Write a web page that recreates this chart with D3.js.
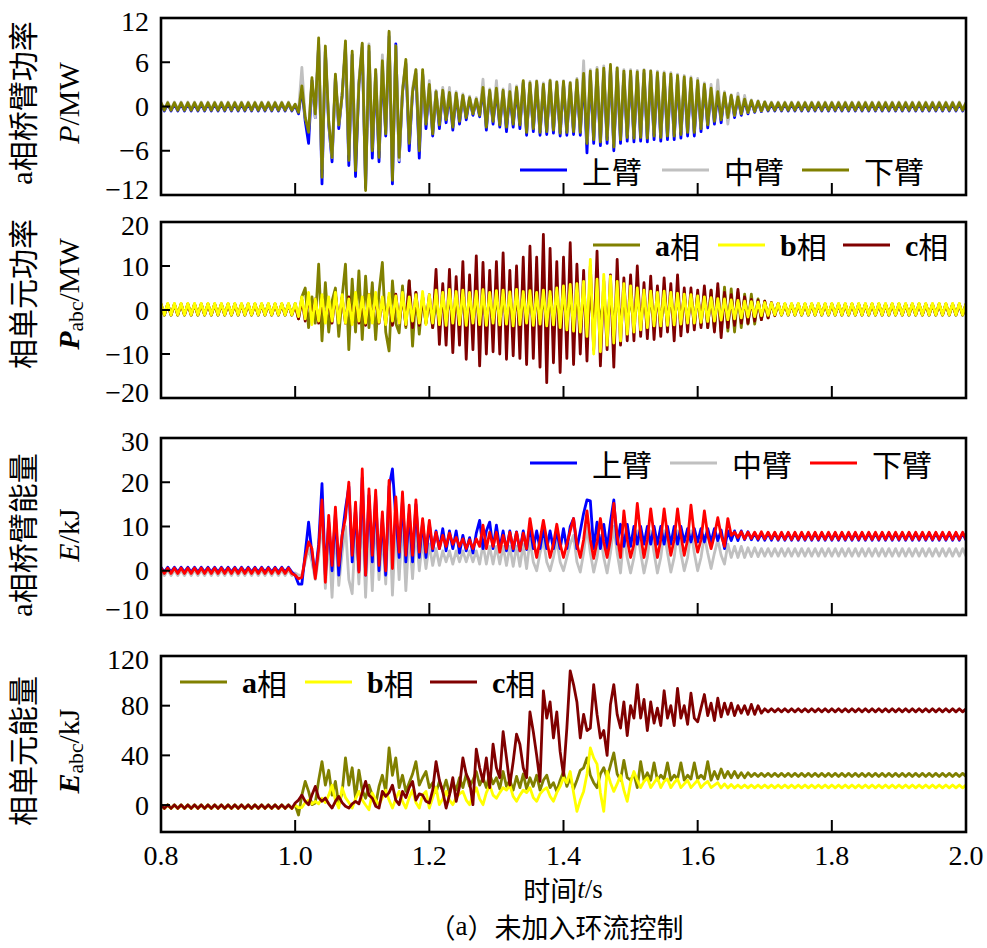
<!DOCTYPE html>
<html>
<head>
<meta charset="utf-8">
<script src="https://cdn.jsdelivr.net/npm/d3@7"></script>
<style>
  body { margin: 0; background: #fff; }
</style>
</head>
<body>
<svg id="chart" width="987" height="948"></svg>
<script>
// samples every 5 ms from 0.8 s to 2.0 s (241 points per series)
const tStart = 0.8, tStep = 0.005;
const xTicks = [0.8, 1.0, 1.2, 1.4, 1.6, 1.8, 2.0];
const armNames = ["上臂", "中臂", "下臂"];
const phaseNames = ["a相", "b相", "c相"];

// ---- panel 1: a-phase arm power P/MW ----
const pUpper = [
  0.4,-0.6,0.4,-0.6,0.4,-0.6,0.4,-0.6,0.4,-0.6,0.4,-0.6,0.4,-0.6,0.4,-0.6,0.4,-0.6,0.4,-0.6,
  0.4,-0.6,0.4,-0.6,0.4,-0.6,0.4,-0.6,0.4,-0.6,0.4,-0.6,0.4,-0.6,0.4,-0.6,0.4,-0.6,0.4,-0.6,
  0.2,-1,2.5,-2,-5,3.5,-1.5,8.5,-10.5,7.5,
  -2.5,-7.5,4,-3,1.5,8,-8,7,-9.5,3,
  8,-11,7.5,-7,4.5,-7.5,5.5,-4,9.5,-10.5,
  8.5,-7.5,2,5.8,-6,2,4.5,-7,4.5,-3,
  2.7,-4,2,-3,2,-2.2,1.7,-3.2,1.6,-2.4,
  1.4,-1.8,1.1,-1.2,0.9,-1.4,2.4,-3.2,2,-2.4,
  2.3,-2.8,2,-3.4,1.8,-2.8,2.4,-3,3.2,-3.9,
  3,-3.4,3.1,-3.9,2.8,-3.8,3.2,-3.6,3,-4,
  3.1,-3.9,2.9,-3.8,3.3,-3.9,4.2,-6.3,4.4,-5,
  4.6,-5.3,4.8,-5,5.2,-6,4.8,-5,4.4,-4.7,
  4.4,-4.8,4.3,-4.7,4.5,-4.8,4.4,-4.5,4.2,-4.7,
  4.1,-4.5,4,-4.5,3.8,-4.3,3.6,-4,3.4,-4,
  3.2,-3.4,2.8,-2.9,2.3,-2.4,1.8,-2.2,1.6,-1.8,
  1.4,-1.5,1.2,-1.2,0.9,-1,0.7,-0.8,0.6,-0.7,
  0.5,-0.6,0.4,-0.6,0.4,
  -0.6,0.4,-0.6,0.4,-0.6,0.4,-0.6,0.4,-0.6,0.4,-0.6,0.4,-0.6,0.4,-0.6,0.4,-0.6,0.4,-0.6,0.4,
  -0.6,0.4,-0.6,0.4,-0.6,0.4,-0.6,0.4,-0.6,0.4,-0.6,0.4,-0.6,0.4,-0.6,0.4,-0.6,0.4,-0.6,0.4,
  -0.6,0.4,-0.6,0.4,-0.6,0.4,-0.6,0.4,-0.6,0.4,-0.6,0.4,-0.6,0.4,-0.6,0.4
];
const pMid = [
  0.6,-0.4,0.6,-0.4,0.6,-0.4,0.6,-0.4,0.6,-0.4,0.6,-0.4,0.6,-0.4,0.6,-0.4,0.6,-0.4,0.6,-0.4,
  0.6,-0.4,0.6,-0.4,0.6,-0.4,0.6,-0.4,0.6,-0.4,0.6,-0.4,0.6,-0.4,0.6,-0.4,0.6,-0.4,0.6,-0.4,
  0.3,-0.5,5.3,-1.5,-3,3.5,-1.5,8.5,-8.5,7.5,
  -2,-6.9,4,-2.5,1.5,8,-6.5,7,-6,3.5,
  8.5,-9.5,8.5,-5.5,5,-6,7,-3,10,-9,
  8.2,-7.3,2.5,6,-4.5,2.5,5,-5,4.5,-2.2,
  3.5,-3.2,2.2,-2.2,2.6,-1.6,2.6,-2.4,2,-1.8,
  1.7,-1.3,1.4,-0.9,1.2,-1,3.7,-2.5,2.4,-1.8,
  3.5,-2.2,2.4,-2.5,3,-2,2.8,-2.2,3.4,-3.2,
  3.4,-2.8,3.5,-3.2,3.2,-3,3.6,-3,3.4,-3.2,
  3.5,-3.2,3.3,-3,3.8,-3.2,6.2,-4.8,5,-4,
  5.3,-4.5,5.5,-4,5.5,-5,5.3,-4,5,-3.8,
  5,-4,4.9,-3.8,5,-3.9,4.9,-3.6,4.8,-3.8,
  4.7,-3.6,4.6,-3.6,4.4,-3.4,4.2,-3.2,4,-3.2,
  3.8,-2.8,3.2,-2.3,3,-1.8,3.6,-1.6,2,-2.4,
  1.6,-1.2,1.8,-0.9,1.5,-0.8,0.9,-0.6,0.8,-0.6,
  0.7,-0.4,0.6,-0.4,0.6,
  -0.4,0.6,-0.4,0.6,-0.4,0.6,-0.4,0.6,-0.4,0.6,-0.4,0.6,-0.4,0.6,-0.4,0.6,-0.4,0.6,-0.4,0.6,
  -0.4,0.6,-0.4,0.6,-0.4,0.6,-0.4,0.6,-0.4,0.6,-0.4,0.6,-0.4,0.6,-0.4,0.6,-0.4,0.6,-0.4,0.6,
  -0.4,0.6,-0.4,0.6,-0.4,0.6,-0.4,0.6,-0.4,0.6,-0.4,0.6,-0.4,0.6,-0.4,0.6
];
const pLower = [
  0.5,-0.5,0.5,-0.5,0.5,-0.5,0.5,-0.5,0.5,-0.5,0.5,-0.5,0.5,-0.5,0.5,-0.5,0.5,-0.5,0.5,-0.5,
  0.5,-0.5,0.5,-0.5,0.5,-0.5,0.5,-0.5,0.5,-0.5,0.5,-0.5,0.5,-0.5,0.5,-0.5,0.5,-0.5,0.5,-0.5,
  0.3,-0.8,2.8,-1.5,-3.5,3.9,-1,9.3,-9.6,8.2,
  -2,-6.9,4.4,-2.5,1.5,8.9,-7.3,7.5,-8.7,3,
  8.6,-11.4,8.2,-6,5,-6.9,6.2,-3.7,10.2,-10,
  8.2,-6.9,2,6.4,-5,2,5,-6,5,-2.4,
  3,-3.7,2,-2.5,2.2,-1.8,1.9,-2.8,1.8,-2,
  1.5,-1.5,1.2,-1,1,-1.2,2.6,-2.8,2.2,-2,
  2.5,-2.5,2.2,-2.8,2,-2.4,2.6,-2.5,3.5,-3.5,
  3.2,-3,3.4,-3.5,3,-3.4,3.5,-3.2,3.3,-3.6,
  3.4,-3.5,3.2,-3.4,3.6,-3.5,4.5,-5,4.8,-4.5,
  5,-4.8,5.2,-4.5,5.7,-5.5,5.2,-4.5,4.8,-4.2,
  4.8,-4.3,4.7,-4.2,4.9,-4.3,4.8,-4,4.6,-4.2,
  4.5,-4,4.4,-4,4.2,-3.8,4,-3.5,3.8,-3.5,
  3.5,-3,3,-2.5,2.5,-2,2,-1.8,1.8,-1.5,
  1.5,-1.2,1.3,-1,1,-0.8,0.8,-0.7,0.7,-0.6,
  0.6,-0.5,0.5,-0.5,0.5,
  -0.5,0.5,-0.5,0.5,-0.5,0.5,-0.5,0.5,-0.5,0.5,-0.5,0.5,-0.5,0.5,-0.5,0.5,-0.5,0.5,-0.5,0.5,
  -0.5,0.5,-0.5,0.5,-0.5,0.5,-0.5,0.5,-0.5,0.5,-0.5,0.5,-0.5,0.5,-0.5,0.5,-0.5,0.5,-0.5,0.5,
  -0.5,0.5,-0.5,0.5,-0.5,0.5,-0.5,0.5,-0.5,0.5,-0.5,0.5,-0.5,0.5,-0.5,0.5
];

// ---- panel 2: phase unit power P_abc/MW ----
const pa = [
  1.4,-1.2,1.4,-1.2,1.4,-1.2,1.4,-1.2,1.4,-1.2,1.4,-1.2,1.4,-1.2,1.4,-1.2,1.4,-1.2,1.4,-1.2,
  1.4,-1.2,1.4,-1.2,1.4,-1.2,1.4,-1.2,1.4,-1.2,1.4,-1.2,1.4,-1.2,1.4,-1.2,1.4,-1.2,1.4,-1.2,
  1.5,-2,3,5,-4,3,-3,10.4,-7,6.2,
  -5,2,5,-6,3,10.4,-9,7,-5,8.9,
  -6.7,7.7,-4,6.2,-6.7,4,10.8,-5,-9.3,6.6,
  -3,-5.2,5.5,-4,6.6,-8.2,4,-5.5,3,-3,
  2.5,-4,2,-2.5,2.5,-2.8,3,-2.5,2.8,-3,
  2.6,-2.8,3,-2.6,2.8,-3,2.5,-2.7,3,-2.8,
  2.7,-3,2.8,-2.5,3,-2.8,2.6,-3,2.9,-2.6,
  2.8,-3,3,-2.7,2.8,-3,2.6,-2.8,3,-2.6,
  2.8,-3,2.7,-2.8,3,-2.7,2.8,-3,2.6,-2.8,
  3,-2.6,2.8,-3,2.7,-2.8,3,-2.7,2.8,-3,
  2.6,-2.8,3,-2.6,2.8,-3,2.7,-2.8,3,-3.2,
  3,-3,3.2,-3,3.2,-3.2,3.3,-3,3.4,-3.3,
  3.5,-3.5,4,-4,4.5,-4.5,5,-5,5.2,-4.8,
  4.8,-5,4,-4,3.6,-3.2,3.6,-3.2,2.5,-2.2,
  2,-1.8,1.6,-1.2,1.4,
  -1.2,1.4,-1.2,1.4,-1.2,1.4,-1.2,1.4,-1.2,1.4,-1.2,1.4,-1.2,1.4,-1.2,1.4,-1.2,1.4,-1.2,1.4,
  -1.2,1.4,-1.2,1.4,-1.2,1.4,-1.2,1.4,-1.2,1.4,-1.2,1.4,-1.2,1.4,-1.2,1.4,-1.2,1.4,-1.2,1.4,
  -1.2,1.4,-1.2,1.4,-1.2,1.4,-1.2,1.4,-1.2,1.4,-1.2,1.4,-1.2,1.4,-1.2,1.4
];
const pb = [
  1.5,-1.1,1.5,-1.1,1.5,-1.1,1.5,-1.1,1.5,-1.1,1.5,-1.1,1.5,-1.1,1.5,-1.1,1.5,-1.1,1.5,-1.1,
  1.5,-1.1,1.5,-1.1,1.5,-1.1,1.5,-1.1,1.5,-1.1,1.5,-1.1,1.5,-1.1,1.5,-1.1,1.5,-1.1,1.5,-1.1,
  1.5,-1.5,3,-2,4,-3.3,2.5,-2.5,3.5,-3,
  3,-2.5,4,-3,3.5,-3,2.5,-3.3,4,-2.5,
  3,-3,3.5,-3,4,-2.8,3,-3.3,3.8,-2.5,
  3.2,-3,4,-3.3,3,-2.5,3.5,-3,4.2,-3.3,
  3.5,-3,4.5,-3.3,4,-3.5,4.7,-3,4.2,-3.3,
  4.5,-3.5,4,-3,4.3,-3.3,4.6,-3.5,4,-3,
  4.4,-3.4,4.5,-3.2,4.1,-3.6,4.7,-3.3,4.2,-3,
  4.4,-3.5,4,-3.2,4.5,-3.6,4.2,-3.4,5,-4,
  5.5,-4.5,5.8,-4.8,6,-5,6.5,-6,11.5,-10,
  7,-9.5,8.1,-8,7.7,-7.5,6.5,-7,6,-5.5,
  5.5,-5,5,-4.5,4.5,-4,4.3,-3.6,4,-3.6,
  4.3,-3.5,4,-3.4,3.8,-3.2,3.6,-3,3.5,-3,
  3.2,-2.8,3,-2.6,2.8,-2.5,2.6,-2.3,2.5,-2.2,
  2.3,-2,2.2,-1.8,2,-1.6,1.9,-1.5,1.8,-1.3,
  1.7,-1.2,1.6,-1.1,1.5,
  -1.1,1.5,-1.1,1.5,-1.1,1.5,-1.1,1.5,-1.1,1.5,-1.1,1.5,-1.1,1.5,-1.1,1.5,-1.1,1.5,-1.1,1.5,
  -1.1,1.5,-1.1,1.5,-1.1,1.5,-1.1,1.5,-1.1,1.5,-1.1,1.5,-1.1,1.5,-1.1,1.5,-1.1,1.5,-1.1,1.5,
  -1.1,1.5,-1.1,1.5,-1.1,1.5,-1.1,1.5,-1.1,1.5,-1.1,1.5,-1.1,1.5,-1.1,1.5
];
const pc = [
  1.3,-1.1,1.3,-1.1,1.3,-1.1,1.3,-1.1,1.3,-1.1,1.3,-1.1,1.3,-1.1,1.3,-1.1,1.3,-1.1,1.3,-1.1,
  1.3,-1.1,1.3,-1.1,1.3,-1.1,1.3,-1.1,1.3,-1.1,1.3,-1.1,1.3,-1.1,1.3,-1.1,1.3,-1.1,1.3,-1.1,
  1,-2,2.4,-2.5,3,-2,2.5,-3,3,-2.5,
  2,-3,3.5,-2.5,2.8,-3,3,-2.8,3.2,-3,
  2.8,-3.5,3.5,-2.5,3,-3,2.8,-3.2,3,-3.5,
  3.6,-3,3.2,-3.5,6.6,-4,4,-3.5,3,-3,
  3.5,-4,9.2,-7.8,6,-8,9.2,-9.7,7.6,-8,
  11,-11.2,8,-9,12.3,-12.7,10.8,-10,9,-9.5,
  11,-10,13,-11.2,9,-10.4,10,-11,12,-12.4,
  14.5,-11,12,-13,17.2,-16.5,14,-12,11,-14.2,
  12,-11,15.3,-12.4,10.4,-10,9,-11.6,10,-9,
  13.4,-12.7,6.6,-9,8,-13,11.5,-8,7.3,-7,
  8,-7,10,-6,6.2,-6.5,7.7,-6.7,5.5,-6,
  7.3,-5,6,-7,8,-5.9,5,-5,5,-4.5,
  4.5,-4,5.5,-4,4.5,-5,6,-6.3,4,-4,
  3.5,-3.5,4.7,-3,3,-3,2.4,-2.5,2.2,-2.2,
  2,-1.8,1.7,-1.3,1.5,
  -1.1,1.3,-1.1,1.3,-1.1,1.3,-1.1,1.3,-1.1,1.3,-1.1,1.3,-1.1,1.3,-1.1,1.3,-1.1,1.3,-1.1,1.3,
  -1.1,1.3,-1.1,1.3,-1.1,1.3,-1.1,1.3,-1.1,1.3,-1.1,1.3,-1.1,1.3,-1.1,1.3,-1.1,1.3,-1.1,1.3,
  -1.1,1.3,-1.1,1.3,-1.1,1.3,-1.1,1.3,-1.1,1.3,-1.1,1.3,-1.1,1.3,-1.1,1.3
];

// ---- panel 3: a-phase arm energy E/kJ ----
const eUpper = [
  0.8,-0.3,0.8,-0.3,0.8,-0.3,0.8,-0.3,0.8,-0.3,0.8,-0.3,0.8,-0.3,0.8,-0.3,0.8,-0.3,0.8,-0.3,
  0.8,-0.3,0.8,-0.3,0.8,-0.3,0.8,-0.3,0.8,-0.3,0.8,-0.3,0.8,-0.3,0.8,-0.3,0.8,-0.3,0.8,-0.3,
  -1,-3,-3,4,11,4,-1,6,19.7,-1,
  11,0,13,-1,8,14,19,2,14,0,
  21,-1,17,2,17,0,12,-1,19,23,
  12,3,16,2,13,2,15,3,11,3,
  10.5,4.5,9,5,9.5,4.5,9,5,9,4,
  8,4.5,7.5,4,8.5,11.4,5,9,11,5,
  10.3,5,9,4.5,9,4.5,8.8,4.5,9,4.8,
  10,5,9,5,9.5,5,9,5,9,5,
  9.5,5,10,11.8,5,9,13,16,15.8,5,
  11,5,10.5,5,11,16,6,10.5,5.5,10.5,
  5.5,10,6,10,6,10,6,10,6,10,
  6,10,6,10,6,10,6.5,9.5,6.5,9.5,
  6.5,9.5,6.5,9.5,6.5,9.5,6.8,9.2,5,9,
  6.8,9,6.8,9,7,8.8,7,8.5,6.9,8.5,
  6.9,8.5,6.9,8.5,6.9,
  8.5,6.9,8.5,6.9,8.5,6.9,8.5,6.9,8.5,6.9,8.5,6.9,8.5,6.9,8.5,6.9,8.5,6.9,8.5,6.9,
  8.5,6.9,8.5,6.9,8.5,6.9,8.5,6.9,8.5,6.9,8.5,6.9,8.5,6.9,8.5,6.9,8.5,6.9,8.5,6.9,
  8.5,6.9,8.5,6.9,8.5,6.9,8.5,6.9,8.5,6.9,8.5,6.9,8.5,6.9,8.5,6.9
];
const eMid = [
  0.1,-1.1,0.1,-1.1,0.1,-1.1,0.1,-1.1,0.1,-1.1,0.1,-1.1,0.1,-1.1,0.1,-1.1,0.1,-1.1,0.1,-1.1,
  0.1,-1.1,0.1,-1.1,0.1,-1.1,0.1,-1.1,0.1,-1.1,0.1,-1.1,0.1,-1.1,0.1,-1.1,0.1,-1.1,0.1,-1.1,
  -0.5,-1,-1,2,5,2,-2,3,12,-4,
  8,-6,10,-3.3,4,10,-2,-5.2,10,-3,
  14,-6,12,-4.5,13,-2,8,-3,14,-5.5,
  11,-2,12,-4.5,9,-1.8,10,0,7,0.5,
  6,1.2,5,1.2,4.5,2,4.5,1.5,4.5,2,
  4.5,2,4.5,2,4.5,1.5,6,1.5,5.5,1.5,
  5.5,1.5,5.5,1.2,5.5,1,5.5,1,6,0.5,
  7,2,0,4,7,2,0,3,7,2,
  0,3,6,8,2,-0.3,4,10,4,-0.3,
  3,8,3,-0.5,4,10,4,-0.5,8,3,
  -0.5,3,9,4,-0.5,3,9,4,-0.5,3,
  9,4,-0.3,3,9,4,0,3,9,4,
  0,3,8,4,0.5,4,7,3.5,1.5,6,
  3,5.5,3,5.5,3,5.2,3.2,5.2,3.2,5,
  3.3,5,3.3,5,3.3,
  5,3.3,5,3.3,5,3.3,5,3.3,5,3.3,5,3.3,5,3.3,5,3.3,5,3.3,5,3.3,
  5,3.3,5,3.3,5,3.3,5,3.3,5,3.3,5,3.3,5,3.3,5,3.3,5,3.3,5,3.3,
  5,3.3,5,3.3,5,3.3,5,3.3,5,3.3,5,3.3,5,3.3,5,3.3
];
const eLower = [
  0.6,-0.6,0.6,-0.6,0.6,-0.6,0.6,-0.6,0.6,-0.6,0.6,-0.6,0.6,-0.6,0.6,-0.6,0.6,-0.6,0.6,-0.6,
  0.6,-0.6,0.6,-0.6,0.6,-0.6,0.6,-0.6,0.6,-0.6,0.6,-0.6,0.6,-0.6,0.6,-0.6,0.6,-0.6,0.6,-0.6,
  -1,-1.8,-1.5,3,6.5,5,-1.8,5,16,-2.6,
  12.5,1.2,14.4,1.2,8,12,20,3.5,15.5,-0.3,
  23,-1,18.5,3.5,18.2,1.2,13.3,0,20.4,0.5,
  16.7,4.2,17.8,3.5,14.8,3.5,16,4.2,11.8,4.2,
  11.4,5,8.7,5,8,5.5,8.5,6,7.5,5.5,
  7.2,5,7,5,7.2,5.5,10.3,5,8.7,5.5,
  8.7,4.2,8,5,8.7,5,8.7,4.5,8.5,5,
  11.8,7,3,7,11.4,7,3,6,10.5,6,
  3,6,9,11.8,6,3,7,13.5,7,2.8,
  6.5,11.8,6.5,3,7,15.2,8,3,13.5,7,
  3,6,15.2,8,3,7,14,8,3,7,
  14,8,3.5,7,14,8,3.5,7,14.8,8,
  4.2,7,13.5,8,5,8,12,8,5.5,11.8,
  8,8.7,7.5,8.8,7.2,8.7,7.3,8.7,7.2,8.8,
  7.2,8.7,7.2,8.7,7.1,
  8.7,7.1,8.7,7.1,8.7,7.1,8.7,7.1,8.7,7.1,8.7,7.1,8.7,7.1,8.7,7.1,8.7,7.1,8.7,7.1,
  8.7,7.1,8.7,7.1,8.7,7.1,8.7,7.1,8.7,7.1,8.7,7.1,8.7,7.1,8.7,7.1,8.7,7.1,8.7,7.1,
  8.7,7.1,8.7,7.1,8.7,7.1,8.7,7.1,8.7,7.1,8.7,7.1,8.7,7.1,8.7,7.1
];

// ---- panel 4: phase unit energy E_abc/kJ ----
const ea = [
  0.2,-2.6,0.2,-2.6,0.2,-2.6,0.2,-2.6,0.2,-2.6,0.2,-2.6,0.2,-2.6,0.2,-2.6,0.2,-2.6,0.2,-2.6,
  0.2,-2.6,0.2,-2.6,0.2,-2.6,0.2,-2.6,0.2,-2.6,0.2,-2.6,0.2,-2.6,0.2,-2.6,0.2,-2.6,0.2,-2.6,
  0,-8,8,19,11,0.3,1.6,20,35,16,
  28,8,19,0.3,10,38,16,30,5.5,28,
  12,5.5,16,8,0.3,15,24,11,46,24,
  38,14,24,11,18,25,35,16,22,27,
  14,18,10,19,11,20,9,18,12,22,
  14,25,15,20,27,16,22,14,25,17,
  22,13,27,15,20,12,23,14,25,13,
  22,15,24,12,20,24,14,18,11,20,
  27,15,22,13,20,28,30,38,24,18,
  14,25,30,22,32,42,25,20,36,22,
  20,25,14,35,20,26,20,34,20,24,
  21,34,20,24,21,34,20,24,21,34,
  21,24,21,35,20,27,21,29,22,27,
  22,27,22,26,22,26,23,25.5,23,25.5,
  23,25.5,23,25.5,23,
  25.5,23,25.5,23,25.5,23,25.5,23,25.5,23,25.5,23,25.5,23,25.5,23,25.5,23,25.5,23,
  25.5,23,25.5,23,25.5,23,25.5,23,25.5,23,25.5,23,25.5,23,25.5,23,25.5,23,25.5,23,
  25.5,23,25.5,23,25.5,23,25.5,23,25.5,23,25.5,23,25.5,23,25.5,23
];
const eb = [
  -0.1,-2.8,-0.1,-2.8,-0.1,-2.8,-0.1,-2.8,-0.1,-2.8,-0.1,-2.8,-0.1,-2.8,-0.1,-2.8,-0.1,-2.8,-0.1,-2.8,
  -0.1,-2.8,-0.1,-2.8,-0.1,-2.8,-0.1,-2.8,-0.1,-2.8,-0.1,-2.8,-0.1,-2.8,-0.1,-2.8,-0.1,-2.8,-0.1,-2.8,
  0,-2,-2,2,4,1,3,1,5.5,2,
  8,16,4,-2.4,14,6,2,-2.4,5,11,
  4,0,-3.8,9.7,4,0.3,6,12,4,-2.4,
  5,11,3,-2.4,6,12,2,-2.4,8,11,
  -2.4,6,14,0.3,5,11,4,0.3,6,9,
  11,4,0.3,8,14,5,0.3,10,16,8,
  5.5,10,14,12,16,7,3,8,12,10,
  14,6,3,9,12,14,7,3,10,15,
  22,18,27,10,-5,4,11,25,46,38,
  33,10,-5,27,18,11,17,24,12,3,
  18,27,20,14,19,22,14,18,22,14,
  19,21,14,18,21,14,17,20,14,17,
  20,14,17,19,14,16,18,13.8,17,13.8,
  16.5,13.8,16.2,13.8,16.2,13.8,16.2,13.8,16.2,13.8,
  16.2,13.8,16.2,13.8,16.2,
  13.8,16.2,13.8,16.2,13.8,16.2,13.8,16.2,13.8,16.2,13.8,16.2,13.8,16.2,13.8,16.2,13.8,16.2,13.8,16.2,
  13.8,16.2,13.8,16.2,13.8,16.2,13.8,16.2,13.8,16.2,13.8,16.2,13.8,16.2,13.8,16.2,13.8,16.2,13.8,16.2,
  13.8,16.2,13.8,16.2,13.8,16.2,13.8,16.2,13.8,16.2,13.8,16.2,13.8,16.2,13.8,16.2
];
const ec = [
  0.1,-2.7,0.1,-2.7,0.1,-2.7,0.1,-2.7,0.1,-2.7,0.1,-2.7,0.1,-2.7,0.1,-2.7,0.1,-2.7,0.1,-2.7,
  0.1,-2.7,0.1,-2.7,0.1,-2.7,0.1,-2.7,0.1,-2.7,0.1,-2.7,0.1,-2.7,0.1,-2.7,0.1,-2.7,0.1,-2.7,
  1.6,4,8,3,0.3,8,15,6,3,5.6,
  1,-2.4,3,7,2,-1,-2.4,1,3,1,
  10,19,8,5.5,-1,-2.4,11,7,10,16,
  4,0.3,11,6,14,19,4,9,8,3,
  1.6,12,35,20,11,-2.4,8,22,3,15,
  38,25,19,0.3,45,30,19,38,14,49,
  30,22,59,38,16,35,57,49,30,22,
  75,59,40,19,92,70,83,54,75,43,
  24,62,108,97,83,54,73,60,62,97,
  73,54,60,40,81,97,73,62,83,56,
  80,70,97,70,85,60,83,66,78,64,
  92,70,80,64,94,70,80,65,90,70,
  67,78,89,72,82,68,86,71,82,73,
  82,72,80,74,80,73,81,73,80,74,
  77.5,75,77.5,75,77.5,
  75,77.5,75,77.5,75,77.5,75,77.5,75,77.5,75,77.5,75,77.5,75,77.5,75,77.5,75,77.5,
  75,77.5,75,77.5,75,77.5,75,77.5,75,77.5,75,77.5,75,77.5,75,77.5,75,77.5,75,77.5,
  75,77.5,75,77.5,75,77.5,75,77.5,75,77.5,75,77.5,75,77.5,75,77.5
];

const SERIF = '"Liberation Serif","Times New Roman",serif';
const CJK = '"Noto Sans CJK SC","Noto Sans CJK JP",sans-serif';
const BLUE = "#0000ff", GRAY = "#c0c0c0", OLIVE = "#808000",
      YELLOW = "#ffff00", DARKRED = "#800000", RED = "#ff0000";

const svg = d3.select("#chart");
const x = d3.scaleLinear().domain([0.8, 2.0]).range([161, 966]);
const fmtY = v => (v < 0 ? "\u2212" + Math.abs(v) : String(v));

// panel layout, top to bottom
const panels = [
  {
    top: 18, bottom: 195, domain: [-12, 12], ticks: [-12, -6, 0, 6, 12],
    series: [[pUpper, BLUE], [pMid, GRAY], [pLower, OLIVE]],
    legend: { names: armNames, colors: [BLUE, GRAY, OLIVE], y: 170, x: [520, 662, 802] },
    outer: [{ t: "a", f: SERIF }, { t: "相桥臂功率", f: CJK }],
    inner: [{ t: "P", f: SERIF, it: true }, { t: "/MW", f: SERIF }],
    labelY: 103
  },
  {
    top: 222, bottom: 398, domain: [-20, 20], ticks: [-20, -10, 0, 10, 20],
    series: [[pa, OLIVE], [pc, DARKRED], [pb, YELLOW]],
    legend: { names: phaseNames, colors: [OLIVE, YELLOW, DARKRED], y: 245, x: [593, 718, 843] },
    outer: [{ t: "相单元功率", f: CJK }],
    inner: [{ t: "P", f: SERIF, it: true, b: true }, { t: "abc", f: SERIF, sub: true }, { t: "/MW", f: SERIF, unsub: true }],
    labelY: 294
  },
  {
    top: 438, bottom: 615, domain: [-10, 30], ticks: [-10, 0, 10, 20, 30],
    series: [[eMid, GRAY], [eUpper, BLUE], [eLower, RED]],
    legend: { names: armNames, colors: [BLUE, GRAY, RED], y: 463, x: [530, 670, 810] },
    outer: [{ t: "a", f: SERIF }, { t: "相桥臂能量", f: CJK }],
    inner: [{ t: "E", f: SERIF, it: true }, { t: "/kJ", f: SERIF }],
    labelY: 535
  },
  {
    top: 656, bottom: 832, domain: [-21.7, 120], ticks: [0, 40, 80, 120],
    series: [[ea, OLIVE], [eb, YELLOW], [ec, DARKRED]],
    legend: { names: phaseNames, colors: [OLIVE, YELLOW, DARKRED], y: 682, x: [180, 305, 430] },
    outer: [{ t: "相单元能量", f: CJK }],
    inner: [{ t: "E", f: SERIF, it: true, b: true }, { t: "abc", f: SERIF, sub: true }, { t: "/kJ", f: SERIF, unsub: true }],
    labelY: 751
  }
];

function richText(sel, parts, size) {
  const t = sel.append("text").attr("font-size", size).attr("fill", "#000");
  parts.forEach(p => {
    const s = t.append("tspan").attr("font-family", p.f).text(p.t);
    if (p.it) s.attr("font-style", "italic");
    if (p.b) s.attr("font-weight", "bold");
    if (p.sub) s.attr("font-size", size * 0.72).attr("dy", size * 0.28);
    if (p.unsub) s.attr("dy", -size * 0.28);
  });
  return t;
}

panels.forEach((p, pi) => {
  const y = d3.scaleLinear().domain(p.domain).range([p.bottom, p.top]);
  const g = svg.append("g");

  const clipId = "clip" + pi;
  svg.append("clipPath").attr("id", clipId)
    .append("rect").attr("x", x(0.8)).attr("y", p.top)
    .attr("width", x(2.0) - x(0.8)).attr("height", p.bottom - p.top);

  const line = d3.line()
    .x((d, i) => x(tStart + i * tStep))
    .y(d => y(d));

  const plot = g.append("g").attr("clip-path", `url(#${clipId})`);
  p.series.forEach(([data, color]) => {
    plot.append("path")
      .datum(data)
      .attr("d", line)
      .attr("fill", "none")
      .attr("stroke", color)
      .attr("stroke-width", 2.8)
      .attr("stroke-linejoin", "round");
  });

  // ticks pointing inside
  g.selectAll(".yt").data(p.ticks).enter().append("line")
    .attr("x1", x(0.8)).attr("x2", x(0.8) + 9)
    .attr("y1", d => y(d)).attr("y2", d => y(d))
    .attr("stroke", "#000").attr("stroke-width", 2);
  g.selectAll(".xt").data(xTicks.slice(1, -1)).enter().append("line")
    .attr("x1", d => x(d)).attr("x2", d => x(d))
    .attr("y1", p.bottom).attr("y2", p.bottom - 12)
    .attr("stroke", "#000").attr("stroke-width", 2);

  g.append("rect")
    .attr("x", x(0.8)).attr("y", p.top)
    .attr("width", x(2.0) - x(0.8)).attr("height", p.bottom - p.top)
    .attr("fill", "none").attr("stroke", "#000").attr("stroke-width", 2.6);

  // y tick labels; the end labels are nudged inward like in the original
  const lo = d3.min(p.ticks), hi = d3.max(p.ticks);
  g.selectAll(".yl").data(p.ticks).enter().append("text")
    .attr("x", 149)
    .attr("y", d => y(d) + (d === hi && y(d) <= p.top + 1 ? 3 : 0) - (d === lo && y(d) >= p.bottom - 1 ? 6 : 0))
    .attr("dy", "0.34em")
    .attr("text-anchor", "end")
    .attr("font-family", SERIF).attr("font-size", 28)
    .text(fmtY);

  // y titles, rotated
  richText(g, p.outer, 30)
    .attr("text-anchor", "middle").attr("dominant-baseline", "central")
    .attr("transform", `translate(21,${p.labelY}) rotate(-90)`);
  richText(g, p.inner, 30)
    .attr("text-anchor", "middle").attr("dominant-baseline", "central")
    .attr("transform", `translate(68,${p.labelY}) rotate(-90)`);

  // legend
  p.legend.names.forEach((name, i) => {
    const lx = p.legend.x[i];
    g.append("line")
      .attr("x1", lx).attr("x2", lx + 47)
      .attr("y1", p.legend.y).attr("y2", p.legend.y)
      .attr("stroke", p.legend.colors[i]).attr("stroke-width", 3);
    const t = g.append("text")
      .attr("x", lx + 62).attr("y", p.legend.y)
      .attr("dominant-baseline", "central")
      .attr("font-size", 30);
    const latin = name.match(/^[a-c]/);
    if (latin) {
      t.append("tspan").attr("font-family", SERIF).attr("font-weight", "bold").text(latin[0]);
      t.append("tspan").attr("font-family", CJK).text(name.slice(1));
    } else {
      t.append("tspan").attr("font-family", CJK).text(name);
    }
  });
});

// bottom axis labels
svg.selectAll(".xl").data(xTicks).enter().append("text")
  .attr("x", d => x(d)).attr("y", 855).attr("dy", "0.34em")
  .attr("text-anchor", "middle")
  .attr("font-family", SERIF).attr("font-size", 28)
  .text(d => d3.format(".1f")(d));

richText(svg, [{ t: "时间", f: CJK }, { t: "t", f: SERIF, it: true }, { t: "/s", f: SERIF }], 27)
  .attr("x", 563).attr("y", 889)
  .attr("text-anchor", "middle").attr("dominant-baseline", "central");

richText(svg, [{ t: "（", f: CJK }, { t: "a", f: SERIF }, { t: "）未加入环流控制", f: CJK }], 27)
  .attr("x", 556).attr("y", 926)
  .attr("text-anchor", "middle").attr("dominant-baseline", "central");
</script>
</body>
</html>
